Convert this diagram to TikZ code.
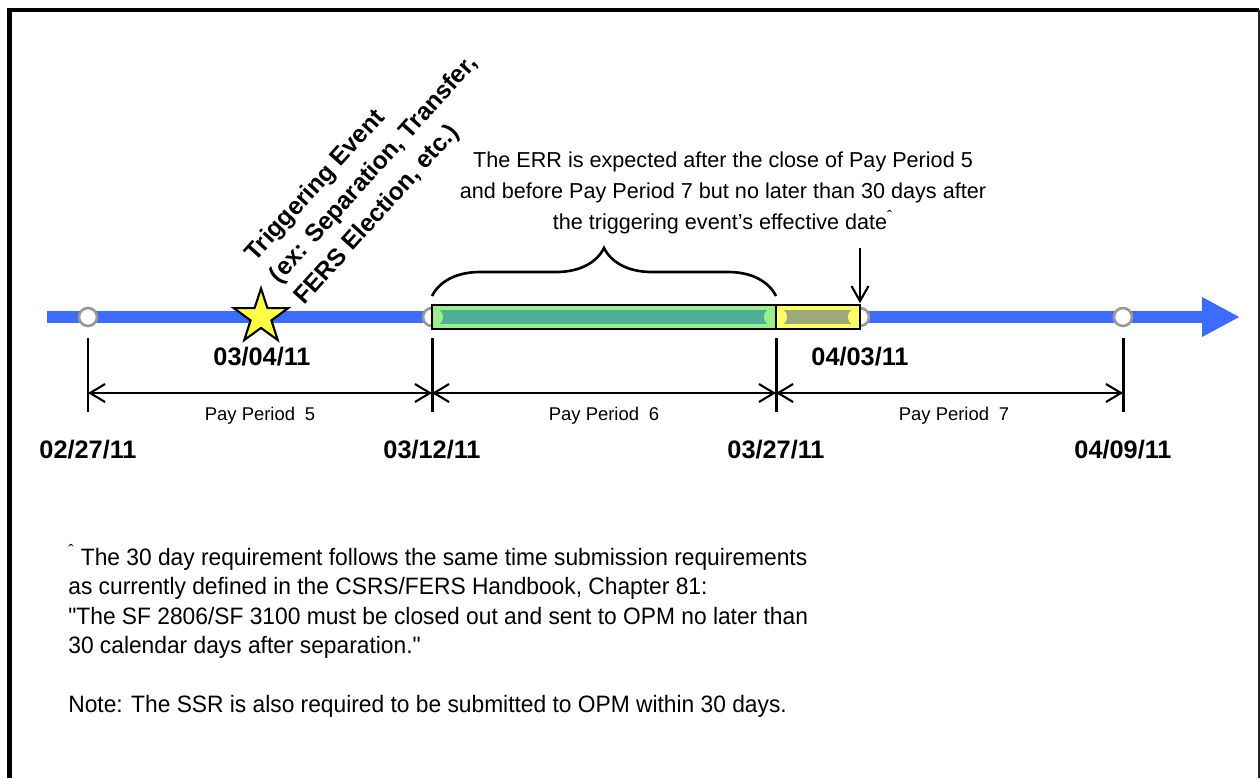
\documentclass[tikz,border=0pt]{standalone}
\usepackage{fontspec}
\setmainfont{Liberation Sans}
\newfontfamily\narrowfont[FakeStretch=0.96]{Liberation Sans}
\usepackage{tikz}
\usetikzlibrary{arrows.meta,positioning,calc,decorations.pathreplacing,shapes.geometric}
\usepackage{xcolor}
\definecolor{timeblue}{HTML}{3B6BFF}
\definecolor{markgray}{HTML}{999999}
\definecolor{errgreen}{HTML}{9CEE8A}
\definecolor{errteal}{HTML}{4DB096}
\definecolor{lateyellow}{HTML}{FFFF66}
\definecolor{lateolive}{HTML}{9AAA78}
\definecolor{staryellow}{HTML}{FFFF44}
\tikzset{
  datelabel/.style   = {font=\fontsize{14.4}{17}\selectfont\bfseries, inner sep=0pt},
  periodlabel/.style = {font=\fontsize{10.5}{12}\selectfont, inner sep=0pt},
  daymark/.style     = {draw=markgray, fill=white, circle, line width=1.5pt,
                        inner sep=0pt, minimum size=0.36cm},
  tickline/.style    = {line width=1.7pt},
  periodspan/.style  = {{Straight Barb[length=3mm,width=3.6mm]}-{Straight Barb[length=3mm,width=3.6mm]},
                        line width=1.2pt},
  pointer/.style     = {-{Straight Barb[length=3mm,width=3.4mm]}, line width=1.2pt},
}

\begin{document}
\begin{tikzpicture}[x=0.02cm,y=-0.02cm]
\useasboundingbox (0,0) rectangle (1260,778);
% frame
\draw[line width=2.8pt] (9.5,778) -- (9.5,10) -- (1259,10);
\draw[line width=1.1pt, black!85] (1259,10) -- (1259,778);

% time line
\coordinate (tlstart) at (47,317);
\coordinate (tlend) at (1240,317);
\draw[timeblue, line width=6.8pt, -{Triangle[length=7.6mm,width=7.4mm]}] (tlstart) -- (tlend);
\node[daymark] (pp5start) at (88,317) {};
\node[daymark] (pp6start) at (432,317) {};
\node[daymark] (due) at (860,317) {};
\node[daymark] (pp7end) at (1123,317) {};

% ERR window (green) and late part (yellow)
\fill[errgreen] (432,305) rectangle (776,329);
\fill[errteal] (437,310) rectangle (771,324);
\fill[errgreen] (437,317) ellipse [x radius=0.12cm, y radius=0.15cm];
\fill[errgreen] (770,317) ellipse [x radius=0.12cm, y radius=0.15cm];
\fill[lateyellow] (776,305) rectangle (860,329);
\fill[lateolive] (781,310) rectangle (855,324);
\fill[lateyellow] (781,317) ellipse [x radius=0.12cm, y radius=0.15cm];
\fill[lateyellow] (854,317) ellipse [x radius=0.12cm, y radius=0.15cm];
\draw[line width=0.8pt] (432,305) rectangle (776,329);
\draw[line width=0.8pt] (776,305) rectangle (860,329);

\node[star, star points=5, star point ratio=2.6, minimum size=1.14cm, inner sep=0pt,
      draw, line width=1.2pt, fill=staryellow] (trigstar) at (261,317) {};

% brace and note
\draw[line width=1.5pt, decorate, decoration={brace, amplitude=0.96cm}]
  (432,296) -- (776,296);
\node[align=center, font=\fontsize{12.3}{17.6}\selectfont] (errnote) at (723,193)
  {The ERR is expected after the close of Pay Period 5\\
   and before Pay Period 7 but no later than 30 days after\\
   the triggering event’s effective date\textsuperscript{ˆ}};
\coordinate (duetop) at (860,248);
\draw[pointer, shorten >=2pt] (duetop) -- (due.north);

\node[rotate=48, anchor=west, align=left, inner sep=0pt,
      font=\fontsize{14}{18.5}\selectfont\bfseries] (trigger) at (275,280)
  {Triggering Event\\(ex: Separation, Transfer,\\FERS Election, etc.)};

% pay period ticks
\coordinate (tick1) at (88,338);   \coordinate (foot1) at (88,412);
\coordinate (tick2) at (432,338);  \coordinate (foot2) at (432,412);
\coordinate (tick3) at (776,338);  \coordinate (foot3) at (776,412);
\coordinate (tick4) at (1123,338); \coordinate (foot4) at (1123,412);
\draw[tickline] (tick1) -- (foot1);
\draw[tickline] (tick2) -- (foot2);
\draw[tickline] (tick3) -- (foot3);
\draw[tickline] (tick4) -- (foot4);
\coordinate (span1) at (88,393);
\coordinate (span2) at (432,393);
\coordinate (span3) at (776,393);
\coordinate (span4) at (1123,393);
\draw[periodspan] (span1) -- (span2);
\draw[periodspan] (span2) -- (span3);
\draw[periodspan] (span3) -- (span4);
\node[periodlabel] (pp5) at (260,416) {Pay Period\hspace{0.25em} 5};
\node[periodlabel] (pp6) at (604,416) {Pay Period\hspace{0.25em} 6};
\node[periodlabel] (pp7) at (954,416) {Pay Period\hspace{0.25em} 7};

% dates
\node[datelabel] (d0227) at (88,450) {02/27/11};
\node[datelabel] (d0312) at (432,450) {03/12/11};
\node[datelabel] (d0327) at (776,450) {03/27/11};
\node[datelabel] (d0409) at (1123,450) {04/09/11};
\node[datelabel] (d0304) at (262,357) {03/04/11};
\node[datelabel] (d0403) at (860,357) {04/03/11};

% footnote
\node[anchor=north west, align=left, inner sep=0pt,
      font=\narrowfont\fontsize{13.5}{16.7}\selectfont] (footnote) at (68,544)
  {\textsuperscript{ˆ} The 30 day requirement follows the same time submission requirements\\
   as currently defined in the CSRS/FERS Handbook, Chapter 81:\\
   "The SF 2806/SF 3100 must be closed out and sent to OPM no later than\\
   30 calendar days after separation."\\[16.7pt]
   Note:  The SSR is also required to be submitted to OPM within 30 days.};
\end{tikzpicture}
\end{document}
